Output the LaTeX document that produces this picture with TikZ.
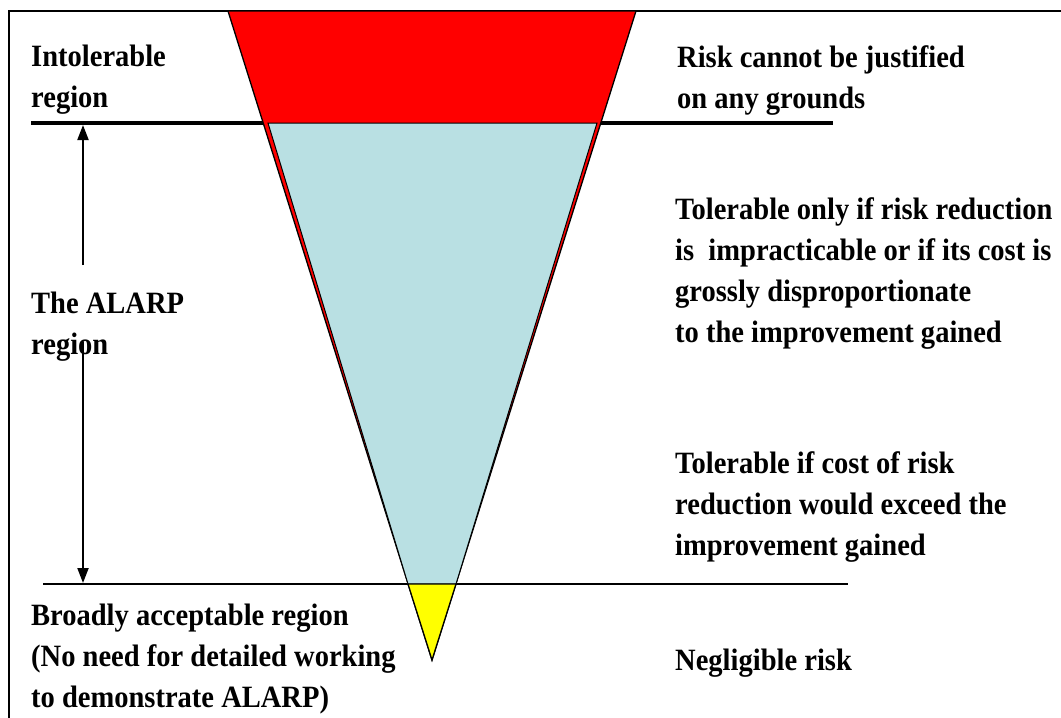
\documentclass[tikz,border=0pt]{standalone}
\usepackage{fontspec}
\setmainfont{Liberation Serif}[FakeStretch=0.92]
\usetikzlibrary{arrows.meta}
\definecolor{zred}{RGB}{255,0,0}
\definecolor{zblue}{RGB}{185,224,227}
\definecolor{zyellow}{RGB}{255,255,0}
\newcommand\zlines[1]{\begin{tabular}[t]{@{}l@{}}#1\end{tabular}}
\begin{document}
\begin{tikzpicture}[x=1pt,y=-1pt,
  lbl/.style={anchor=base west,inner sep=0pt,font=\fontsize{31}{41}\selectfont\bfseries},
  zone/.style={draw=black,line width=1.3pt},
  tip/.style={line width=2pt,-{Triangle[width=11pt,length=15pt]}}]
\useasboundingbox (0,0) rectangle (1061,718);
% frame
\coordinate (fb) at (9,718);
\coordinate (ft) at (9,11);
\coordinate (fr) at (1061,11);
\draw[line width=2.6pt] (fb) -- (ft) -- (fr);
% horizontal boundaries
\coordinate (u1) at (31,123);
\coordinate (u2) at (833,123);
\draw[line width=4pt] (u1) -- (u2);
\coordinate (l1) at (43,584);
\coordinate (l2) at (848,584);
\draw[line width=2pt] (l1) -- (l2);
% red triangle
\coordinate (r1) at (228,11);
\coordinate (r2) at (636,11);
\coordinate (ap) at (432,660);
\draw[zone,fill=zred] (r1) -- (r2) -- (ap) -- cycle;
% blue region
\coordinate (b1) at (268,123);
\coordinate (b2) at (597,123);
\coordinate (b3) at (456,584);
\coordinate (b4) at (408,584);
\draw[zone,line width=1pt,fill=zblue] (b1) -- (b2) -- (b3) -- (b4) -- cycle;
% yellow tip
\draw[zone,fill=zyellow] (b4) -- (b3) -- (ap) -- cycle;
% ALARP arrow
\coordinate (a1) at (83,125);
\coordinate (a2) at (83,265);
\coordinate (a3) at (83,342);
\coordinate (a4) at (83,583);
\draw[tip] (a2) -- (a1);
\draw[tip] (a3) -- (a4);
% labels left
\node[lbl] (intol) at (31,66) {\zlines{Intolerable\\region}};
\node[lbl] (alarp) at (31,313) {\zlines{The ALARP\\region}};
\node[lbl] (broad) at (31,625) {\zlines{Broadly acceptable region\\(No need for detailed working\\to demonstrate ALARP)}};
% labels right
\node[lbl] (risk) at (677,67) {\zlines{Risk cannot be justified\\on any grounds}};
\node[lbl] (tol1) at (675,219) {\zlines{Tolerable only if risk reduction\\is\ \ impracticable or if its cost is\\grossly disproportionate\\to the improvement gained}};
\node[lbl] (tol2) at (675,473) {\zlines{Tolerable if cost of risk\\reduction would exceed the\\improvement gained}};
\node[lbl] (negl) at (675,670) {Negligible risk};
\end{tikzpicture}
\end{document}
